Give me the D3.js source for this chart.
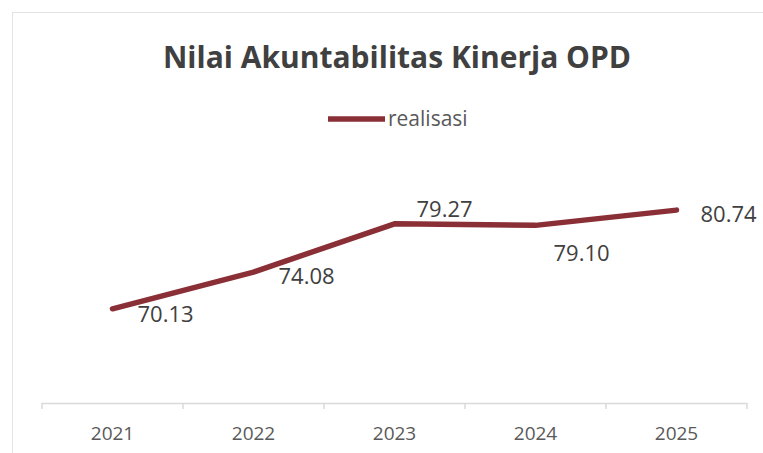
<!DOCTYPE html>
<html>
<head>
<meta charset="utf-8">
<script src="https://cdn.jsdelivr.net/npm/d3@7"></script>
<style>
  body { margin: 0; background: #fff; }
  svg { display: block; font-family: "Open Sans", sans-serif; }
</style>
</head>
<body>
<svg id="chart" width="763" height="453"></svg>
<script>
const years = ['2021', '2022', '2023', '2024', '2025'];
const realisasi = [70.13, 74.08, 79.27, 79.10, 80.74];
const seriesName = 'realisasi';
const chartTitle = 'Nilai Akuntabilitas Kinerja OPD';

// label placement per point (dx, dy from the point)
const labelOffsets = [[25, 4], [25, 3], [22, -16], [18, 27], [24, 3]];

const lineColor = '#8b2f36';
const textColor = '#404040';

const svg = d3.select('#chart');

// chart area frame (cropped at right / bottom)
svg.append('rect')
  .attr('x', 12.5).attr('y', 12.5)
  .attr('width', 800).attr('height', 500)
  .attr('fill', '#fff')
  .attr('stroke', '#e3e3e3');

const x = d3.scaleBand()
  .domain(years)
  .range([42, 747])
  .paddingInner(0)
  .paddingOuter(0);

const y = d3.scaleLinear()
  .domain([60, 90])
  .range([403, 124]);

// title
svg.append('text')
  .attr('x', 397).attr('y', 68)
  .attr('text-anchor', 'middle')
  .attr('font-size', 30)
  .attr('font-weight', 'bold')
  .attr('fill', '#404040')
  .text(chartTitle);

// legend
svg.append('line')
  .attr('x1', 328).attr('x2', 385)
  .attr('y1', 119).attr('y2', 119)
  .attr('stroke', lineColor)
  .attr('stroke-width', 5.5);
svg.append('text')
  .attr('x', 388).attr('y', 118)
  .attr('dominant-baseline', 'central')
  .attr('font-size', 21)
  .attr('fill', '#595959')
  .text(seriesName);

// category axis, ticks between categories
const axisY = y(60);
svg.append('line')
  .attr('x1', x.range()[0]).attr('x2', x.range()[1])
  .attr('y1', axisY + 0.5).attr('y2', axisY + 0.5)
  .attr('stroke', '#d9d9d9')
  .attr('stroke-width', 1.5);

const tickXs = years.map(d => x(d)).concat([x.range()[1]]);
svg.append('g')
  .selectAll('line')
  .data(tickXs)
  .enter()
  .append('line')
  .attr('x1', d => d).attr('x2', d => d)
  .attr('y1', axisY).attr('y2', axisY + 6)
  .attr('stroke', '#d9d9d9')
  .attr('stroke-width', 1.5);

svg.append('g')
  .selectAll('text')
  .data(years)
  .enter()
  .append('text')
  .attr('x', d => x(d) + x.bandwidth() / 2)
  .attr('y', 433)
  .attr('text-anchor', 'middle')
  .attr('dominant-baseline', 'central')
  .attr('font-size', 19)
  .attr('fill', '#595959')
  .text(d => d);

// line
const pts = years.map((d, i) => ({ year: d, value: realisasi[i] }));
const line = d3.line()
  .x(d => x(d.year) + x.bandwidth() / 2)
  .y(d => y(d.value));

svg.append('path')
  .datum(pts)
  .attr('d', line)
  .attr('fill', 'none')
  .attr('stroke', lineColor)
  .attr('stroke-width', 5.5)
  .attr('stroke-linejoin', 'round')
  .attr('stroke-linecap', 'round');

// data labels
svg.append('g')
  .selectAll('text')
  .data(pts)
  .enter()
  .append('text')
  .attr('x', (d, i) => x(d.year) + x.bandwidth() / 2 + labelOffsets[i][0])
  .attr('y', (d, i) => y(d.value) + labelOffsets[i][1])
  .attr('dominant-baseline', 'central')
  .attr('font-size', 22)
  .attr('fill', textColor)
  .text(d => d.value.toFixed(2));
</script>
</body>
</html>
